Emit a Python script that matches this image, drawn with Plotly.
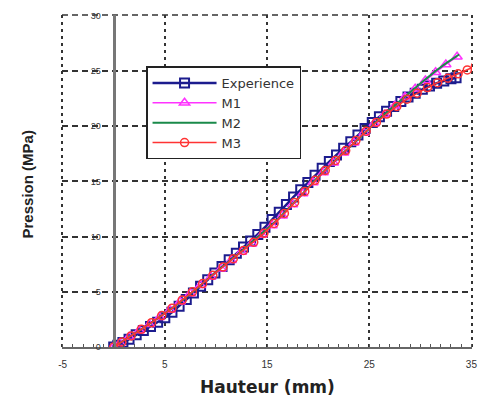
import plotly.graph_objects as go

exp_x = [0, 0.4, 0.9, 1.5, 2.2, 2.9, 3.6, 4.3, 5.0, 5.7, 6.4, 7.1, 7.8, 8.5, 9.2, 9.9, 10.6, 11.3,
         12.0, 12.7, 13.4, 14.1, 14.8, 15.5, 16.2, 16.9, 17.6, 18.3, 19.0, 19.7, 20.4, 21.1, 21.8,
         22.5, 23.2, 23.9, 24.6, 25.3, 26.0, 26.7, 27.4, 28.1, 28.8, 29.5, 30.2, 30.9, 31.6, 32.3,
         33.0, 33.5]
exp_y = [0, 0.15, 0.4, 0.7, 1.1, 1.5, 1.85, 2.25, 2.65, 3.15, 3.7, 4.3, 4.9, 5.5, 6.1, 6.7, 7.3, 7.9,
         8.5, 9.05, 9.6, 10.2, 10.85, 11.55, 12.2, 12.9, 13.6, 14.25, 14.9, 15.55, 16.2, 16.8, 17.4,
         18.0, 18.6, 19.2, 19.8, 20.35, 20.85, 21.35, 21.8, 22.25, 22.65, 23.0, 23.35, 23.65, 23.9,
         24.1, 24.3, 24.4]

m1_x = [0, 0.6, 1.5, 2.5, 3.5, 4.5, 5.5, 6.5, 7.5, 8.5, 9.5, 10.5, 11.5, 12.5, 13.5, 14.5, 15.5,
        16.5, 17.5, 18.5, 19.5, 20.5, 21.5, 22.5, 23.5, 24.5, 25.5, 26.5, 27.5, 28.5, 29.5, 30.5,
        31.5, 32.5, 33.6]
m1_y = [0, 0.35, 0.9, 1.5, 2.05, 2.7, 3.35, 4.1, 4.85, 5.6, 6.35, 7.1, 7.85, 8.6, 9.35, 10.15, 11.0,
        11.9, 12.9, 13.9, 14.9, 15.8, 16.7, 17.6, 18.5, 19.4, 20.25, 21.05, 21.85, 22.65, 23.4, 24.15,
        24.9, 25.6, 26.3]

m2_x = [0, 2, 4, 6, 8, 10, 12, 14, 16, 18, 20, 22, 24, 26, 28, 29.5, 30.5, 31.5, 32.5, 33.8]
m2_y = [0, 1.2, 2.4, 3.7, 5.2, 6.8, 8.3, 9.9, 11.5, 13.4, 15.4, 17.2, 18.9, 20.7, 22.3, 23.45,
        24.25, 25.0, 25.7, 26.5]

m3_x = [0, 0.8, 1.7, 2.7, 3.7, 4.7, 5.7, 6.7, 7.7, 8.7, 9.7, 10.7, 11.7, 12.7, 13.7, 14.7, 15.7,
        16.7, 17.7, 18.7, 19.7, 20.7, 21.7, 22.7, 23.7, 24.7, 25.7, 26.7, 27.7, 28.7, 29.7, 30.7,
        31.7, 32.7, 33.7, 34.6, 35.4]
m3_y = [0, 0.45, 1.0, 1.6, 2.2, 2.85, 3.5, 4.25, 5.0, 5.75, 6.5, 7.25, 8.0, 8.75, 9.5, 10.3, 11.2,
        12.1, 13.1, 14.1, 15.1, 16.0, 16.9, 17.8, 18.7, 19.55, 20.35, 21.1, 21.8, 22.45, 23.0, 23.5,
        23.95, 24.35, 24.75, 25.1, 25.45]

names = ["Experience", "M1", "M2", "M3"]
x_tickvals = [-5, 5, 15, 25, 35]
x_ticktext = ["-5", "5", "15", "25", "35"]
y_tickvals = [0, 5, 10, 15, 20, 25, 30]
y_ticktext = ["0", "5", "10", "15", "20", "25", "30"]

fig = go.Figure()
fig.add_trace(go.Scatter(x=exp_x, y=exp_y, name=names[0], mode="lines+markers", legendgroup="a",
                         line=dict(color="#1c1c8e", width=2.5),
                         marker=dict(symbol="square-open", size=9, color="#1c1c8e", line=dict(width=2))))
fig.add_trace(go.Scatter(x=m1_x, y=m1_y, name=names[1], mode="lines+markers", legendgroup="b",
                         line=dict(color="#ff33ff", width=1.5),
                         marker=dict(symbol="triangle-up-open", size=9, color="#ff33ff", line=dict(width=1.5))))
fig.add_trace(go.Scatter(x=m2_x, y=m2_y, name=names[2], mode="lines", legendgroup="c",
                         line=dict(color="#1a8a4a", width=2)))
fig.add_trace(go.Scatter(x=m3_x, y=m3_y, name=names[3], mode="lines+markers", legendgroup="d",
                         line=dict(color="#ff3333", width=1.5),
                         marker=dict(symbol="circle-open", size=8, color="#ff3333", line=dict(width=1.5))))

fig.update_layout(
    width=488, height=403,
    margin=dict(l=62, r=11, t=12, b=56),
    paper_bgcolor="white", plot_bgcolor="white",
    font=dict(family="Arial, Liberation Sans, sans-serif", color="#222"),
    showlegend=True,
    legend=dict(x=0.205, y=0.845, xanchor="left", yanchor="top",
                bgcolor="white", bordercolor="#222", borderwidth=1.5,
                font=dict(size=13, family="DejaVu Sans, Arial", color="#333"),
                tracegroupgap=12, itemwidth=64, traceorder="normal"),
    xaxis=dict(range=[-5.06, 35.06], tickvals=x_tickvals, ticktext=x_ticktext, showgrid=True,
               griddash="3px,4px", gridcolor="#333", gridwidth=2, zeroline=False, showline=True,
               linecolor="#666", linewidth=2, ticks="", ticklabelstandoff=7,
               tickfont=dict(size=10, color="#333"),
               minor=dict(dtick=1, ticks="inside", ticklen=3, tickcolor="#555", showgrid=False)),
    yaxis=dict(range=[0, 30.08], tickvals=y_tickvals, ticktext=y_ticktext, showgrid=True,
               griddash="6px,4px", gridcolor="#333", gridwidth=1.5, zeroline=False, showline=True,
               linecolor="#777", linewidth=3, anchor="free", position=0.126, ticks="",
               ticklabelstandoff=10, tickfont=dict(size=9, color="#333")),
)

# plot-area border (dotted sides, dashed top), as in the reference
fig.add_shape(type="line", xref="paper", yref="paper", x0=0, x1=0, y0=0, y1=1, layer="below",
              line=dict(color="#333", width=2, dash="3px,4px"))
fig.add_shape(type="line", xref="paper", yref="paper", x0=1, x1=1, y0=0, y1=1, layer="below",
              line=dict(color="#333", width=2, dash="3px,4px"))
fig.add_shape(type="line", xref="paper", yref="paper", x0=0, x1=1, y0=1, y1=1, layer="below",
              line=dict(color="#333", width=1.5, dash="6px,4px"))

fig.add_annotation(text="<b>Hauteur (mm)</b>", xref="paper", yref="paper", x=0.5, y=-0.119,
                   xanchor="center", yanchor="middle", showarrow=False,
                   font=dict(size=17, family="DejaVu Sans, Arial", color="#222"))
fig.add_annotation(text="<b>Pression (MPa)</b>", xref="paper", yref="paper", x=-0.085, y=0.49,
                   xanchor="center", yanchor="middle", showarrow=False, textangle=-90,
                   font=dict(size=15, family="Arial, Liberation Sans", color="#222"))

fig.write_html("out.html")
